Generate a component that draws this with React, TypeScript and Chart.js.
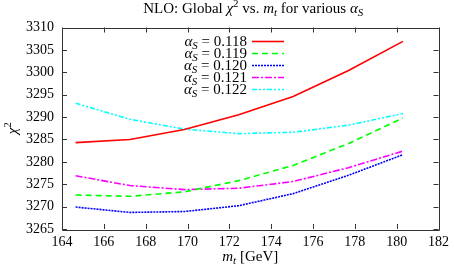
import React, { useEffect, useRef } from "react";
import { Chart, registerables } from "chart.js";
Chart.register(...registerables);

const mt = [164.65, 167.25, 169.85, 172.45, 175.05, 177.7, 180.3];
const alphaLabels = ["0.118", "0.119", "0.120", "0.121", "0.122"];
const chi2_0118 = [3284.3, 3285.0, 3287.2, 3290.5, 3294.6, 3300.4, 3306.9];
const chi2_0119 = [3272.6, 3272.3, 3273.3, 3275.8, 3279.2, 3284.1, 3289.8];
const chi2_0120 = [3269.9, 3268.7, 3268.9, 3270.2, 3272.9, 3277.0, 3281.6];
const chi2_0121 = [3276.9, 3274.7, 3273.8, 3274.1, 3275.6, 3278.7, 3282.4];
const chi2_0122 = [3293.1, 3289.5, 3287.3, 3286.3, 3286.6, 3288.2, 3290.8];
const xTicks = [164, 166, 168, 170, 172, 174, 176, 178, 180, 182];
const yTicks = [3265, 3270, 3275, 3280, 3285, 3290, 3295, 3300, 3305, 3310];

const series = [chi2_0118, chi2_0119, chi2_0120, chi2_0121, chi2_0122];
const colors = ["#ff0000", "#00ff00", "#0000ff", "#ff00ff", "#00ffff"];
const dashes = [[], [6, 4], [2, 1], [7, 2, 2, 2], [5, 2, 2, 2, 2, 2]];

const FAM = '"Liberation Serif", "DejaVu Serif", serif';

type Seg = { t: string; it?: boolean; sub?: boolean; sup?: boolean };

function drawRich(
  ctx: CanvasRenderingContext2D,
  segs: Seg[],
  x: number,
  y: number,
  align: "left" | "center" | "right",
  size: number
) {
  const fontOf = (s: Seg) =>
    `${s.it ? "italic " : ""}${s.sub || s.sup ? Math.round(size * 0.72) : size}px ${FAM}`;
  const widths = segs.map((s) => {
    ctx.font = fontOf(s);
    return ctx.measureText(s.t).width;
  });
  const total = widths.reduce((a, b) => a + b, 0);
  let cx = align === "left" ? x : align === "center" ? x - total / 2 : x - total;
  ctx.textAlign = "left";
  ctx.textBaseline = "alphabetic";
  segs.forEach((s, i) => {
    ctx.font = fontOf(s);
    const dy = s.sub ? size * 0.22 : s.sup ? -size * 0.4 : 0;
    ctx.fillText(s.t, cx, y + dy);
    cx += widths[i];
  });
}

const decorPlugin = {
  id: "decor",
  afterDraw(chart: any) {
    const ctx: CanvasRenderingContext2D = chart.ctx;
    const { left, right, top, bottom } = chart.chartArea;
    const xs = chart.scales.x;
    const ys = chart.scales.y;
    ctx.save();
    // frame
    ctx.strokeStyle = "#333";
    ctx.lineWidth = 1;
    ctx.setLineDash([]);
    ctx.beginPath();
    ctx.rect(Math.round(left) + 0.5, Math.round(top) + 0.5, Math.round(right - left), Math.round(bottom - top));
    ctx.stroke();
    // inward ticks
    const tl = 5;
    ctx.beginPath();
    xTicks.forEach((v) => {
      const px = Math.round(xs.getPixelForValue(v)) + 0.5;
      ctx.moveTo(px, bottom);
      ctx.lineTo(px, bottom - tl);
      ctx.moveTo(px, top);
      ctx.lineTo(px, top + tl);
    });
    yTicks.forEach((v) => {
      const py = Math.round(ys.getPixelForValue(v)) + 0.5;
      ctx.moveTo(left, py);
      ctx.lineTo(left + tl, py);
      ctx.moveTo(right, py);
      ctx.lineTo(right - tl, py);
    });
    ctx.stroke();

    ctx.fillStyle = "#000";
    // title
    drawRich(
      ctx,
      [
        { t: "NLO: Global " },
        { t: "χ", it: true },
        { t: "2", sup: true },
        { t: " vs. " },
        { t: "m", it: true },
        { t: "t", it: true, sub: true },
        { t: " for various " },
        { t: "α", it: true },
        { t: "S", it: true, sub: true },
      ],
      (left + right) / 2 + 3,
      13,
      "center",
      15
    );
    // x title
    drawRich(ctx, [{ t: "m", it: true }, { t: "t", it: true, sub: true }, { t: " [GeV]" }], (left + right) / 2, 261, "center", 15);
    // y title
    ctx.save();
    ctx.translate(17, (top + bottom) / 2);
    ctx.rotate(-Math.PI / 2);
    drawRich(ctx, [{ t: "χ", it: true }, { t: "2", sup: true }], 0, 0, "center", 15);
    ctx.restore();

    // legend
    chart.data.datasets.forEach((ds: any, i: number) => {
      const rowY = 41.5 + i * 12;
      ctx.fillStyle = "#000";
      drawRich(
        ctx,
        [{ t: "α", it: true }, { t: "S", it: true, sub: true }, { t: " = " + alphaLabels[i] }],
        247,
        rowY + 4.5,
        "right",
        15
      );
      ctx.strokeStyle = ds.borderColor;
      ctx.lineWidth = ds.borderWidth;
      ctx.setLineDash(ds.borderDash || []);
      ctx.beginPath();
      ctx.moveTo(252, rowY);
      ctx.lineTo(284, rowY);
      ctx.stroke();
    });
    ctx.restore();
  },
};

export default function App() {
  const ref = useRef<HTMLCanvasElement>(null);
  useEffect(() => {
    document.body.style.margin = "0";
    const tickFont = { family: FAM, size: 14 };
    const chart = new Chart(ref.current as HTMLCanvasElement, {
      type: "line",
      data: {
        datasets: series.map((vals, i) => ({
          label: "αS = " + alphaLabels[i],
          data: mt.map((x, j) => ({ x, y: vals[j] })),
          borderColor: colors[i],
          backgroundColor: colors[i],
          borderWidth: 1.6,
          borderDash: dashes[i],
          pointRadius: 0,
          tension: 0,
          fill: false,
        })),
      },
      options: {
        animation: false,
        responsive: false,
        events: [],
        layout: { padding: { top: 27.5, right: 13, left: 0, bottom: 0 } },
        plugins: { legend: { display: false }, title: { display: false }, tooltip: { enabled: false } },
        scales: {
          x: {
            type: "linear",
            min: 164,
            max: 182,
            afterBuildTicks: (s: any) => {
              s.ticks = xTicks.map((v) => ({ value: v }));
            },
            afterFit: (s: any) => {
              s.height = 37;
            },
            ticks: { font: tickFont, color: "#000", padding: 5, maxRotation: 0, autoSkip: false, callback: (v: any) => String(v) },
            grid: { display: false, drawTicks: false },
            border: { display: false },
          },
          y: {
            type: "linear",
            min: 3265,
            max: 3310,
            afterBuildTicks: (s: any) => {
              s.ticks = yTicks.map((v) => ({ value: v }));
            },
            afterFit: (s: any) => {
              s.width = 62;
            },
            ticks: { font: tickFont, color: "#000", padding: 8, autoSkip: false, callback: (v: any) => String(v) },
            grid: { display: false, drawTicks: false },
            border: { display: false },
          },
        },
      },
      plugins: [decorPlugin],
    } as any);
    return () => chart.destroy();
  }, []);
  return (
    <div style={{ width: 454, height: 266 }}>
      <canvas ref={ref} width={454} height={266} style={{ display: "block" }} />
    </div>
  );
}
